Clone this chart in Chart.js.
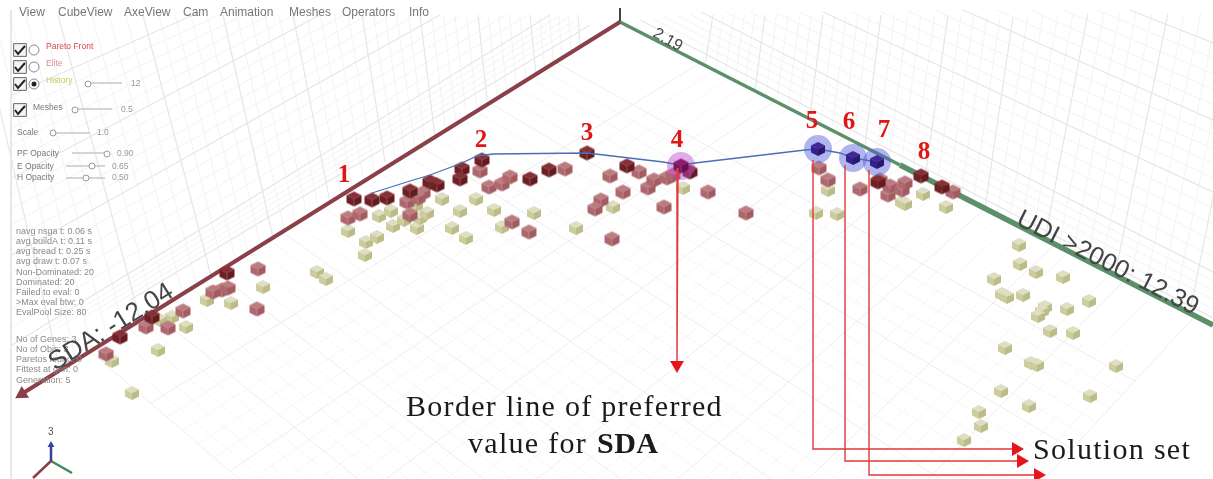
<!DOCTYPE html>
<html>
<head>
<meta charset="utf-8">
<title>Pareto front view</title>
<style>
    html, body { margin: 0; padding: 0; background: #fff; overflow: hidden; }
    canvas { display: block; filter: blur(0.5px); }
</style>
<script src="https://cdn.jsdelivr.net/npm/chart.js@4/dist/chart.umd.min.js"></script>
</head>
<body>
<canvas id="chart" width="1213" height="479"></canvas>
<script>
// values, in picture units (x right, y down)
const paretoCubes = [
    [354,199],[372,200],[387,198],[410,191],[430,182],[437,185],[462,169],[460,179],[482,160],
    [530,179],[549,170],[587,153],[627,166],[690,172],[921,176],[942,187],[878,182],
    [227,273],[152,317],[120,337]
];
const dominatedCubes = [
    [348,218],[360,214],[407,202],[423,193],[418,198],[410,215],[480,171],[489,187],[502,184],
    [510,177],[565,169],[610,176],[623,192],[601,200],[595,209],[512,222],[529,232],[612,239],
    [639,172],[648,188],[654,180],[667,178],[673,175],[664,207],[708,192],[746,213],
    [819,168],[828,180],[860,189],[880,180],[888,195],[890,186],[902,190],[905,183],[953,192],
    [258,269],[257,309],[222,290],[213,292],[228,288],[183,311],[168,328],[146,327],[106,354]
];
const historyCubes = [
    [348,231],[366,242],[377,237],[365,255],[379,216],[391,211],[393,226],[404,220],[417,228],
    [420,218],[427,213],[416,205],[442,199],[460,211],[476,199],[494,210],[452,228],[466,238],
    [502,227],[534,213],[576,228],[613,207],[683,188],[828,190],[816,213],[837,214],[902,202],
    [905,204],[923,194],[946,207],[263,287],[231,303],[207,300],[317,272],[326,279],[186,327],
    [158,350],[132,393],[112,361],[172,317],[160,320],
    [1019,245],[1020,264],[1036,272],[1063,277],[994,279],[1002,294],[1007,297],[1023,295],
    [1089,301],[1045,307],[1042,311],[1038,316],[1067,309],[1050,331],[1073,333],[1005,348],
    [1031,363],[1037,365],[1116,366],[1001,391],[1090,396],[1029,406],[979,412],[981,426],[964,440]
];
const solutionSet = [[818,149],[853,158],[877,162]];
const borderSolution = [[681,166]];
const frontLine = [
    [372,193],[410,181],[430,175],[462,163],[477,156],[493,154],[587,153],[663,162],[680,165],
    [695,163],[788,152],[805,150],[818,149],[840,153],[853,158],[877,162]
];

const solutionNumbers = ['1','2','3','4','5','6','7','8'];
const solutionNumberX = [344,481,587,677,812,849,884,924];
const solutionNumberY = [176,141,134,141,122,123,131,153];

const menuItems = ['View','CubeView','AxeView','Cam','Animation','Meshes','Operators','Info'];
const menuX = [19,58,124,183,220,289,342,409];

const statLines = [
    'navg nsga t: 0.06 s','avg buildA t: 0.11 s','avg bread t: 0.25 s','avg draw t: 0.07 s',
    'Non-Dominated: 20','Dominated: 20','Failed to eval: 0','>Max eval btw: 0','EvalPool Size: 80',
    'No of Genes: 3','No of Objs: 3','Paretos found: 0','Fittest at gen: 0','Generation: 5'
];
const statY = [232,242,252,262,273,283,293,303,313,340,350,360,370,381];

const panelLabels = [
    ['Pareto Front',46,47,'#d9454a'],['Elite',46,64,'#e08a8a'],['History',46,81,'#c9c95a'],['12',131,84,'#999'],
    ['Meshes',33,108,'#777'],['0.5',121,110,'#999'],['Scale',17,133,'#777'],['1.0',97,133,'#999'],
    ['PF Opacity',17,154,'#777'],['0.90',117,154,'#999'],['E Opacity',17,167,'#777'],['0.65',112,167,'#999'],
    ['H Opacity',17,178,'#777'],['0.50',112,178,'#999']
];
const checkBoxes = [[20,50],[20,67],[20,84],[20,110]];
const radioButtons = [[34,50],[34,67],[34,84]];
const radioDot = [[34,84]];
const sliderThumbs = [[88,84],[75,110],[53,133],[107,154],[92,166],[86,178]];
const sliderTracks = [
    [88,83],[122,83],null,[75,109],[112,109],null,[53,133],[90,133],null,
    [72,153],[107,153],null,[66,166],[105,166],null,[66,178],[105,178]
];
const checkMarks = [
    [15,50],[18,54],[25,46],null,[15,67],[18,71],[25,63],null,[15,84],[18,88],[25,80],null,[15,110],[18,114],[25,106]
];

// heavy grid lines as [x1, y1, x2, y2], in order across each surface
const floorAlongUdi = [
    [555,62,1135,381],[490,103,1072,449],[420,146,940,479],[350,190,771,479],[283,232,621,479],
    [217,273,484,479],[153,312,358,479],[90,351,239,479]
];
const floorAlongSda = [
    [700,63,151,403],[775,101,230,471],[845,137,386,479],[915,173,537,479],[985,209,678,479],
    [1055,244,808,479],[1125,280,928,479],[1195,316,1044,479]
];
const leftWallUp = [
    [-22,15,60,370],[58,15,140,320],[143,15,211,276],[223,15,273,238],[293,15,330,202],
    [362,15,385,162],[420,15,435,137],[478,15,487,100],[530,15,536,75],[578,15,580,47]
];
const leftWallAcross = [
    [12,95,200,12],[12,178,320,15],[12,255,440,15],[12,345,550,15],[130,300,590,25]
];
const rightWallUp = [
    [713,15,705,65],[765,15,755,90],[823,15,810,115],[881,15,865,145],[948,15,925,178],
    [1013,17,985,208],[1088,13,1045,239],[1168,13,1115,275],[1250,13,1190,312]
];
const rightWallAcross = [
    [1130,10,1213,43],[963,10,1213,120],[823,12,1213,192],[701,12,1213,272],[640,20,1213,318]
];
const leftEdge = [[11,10],[11,479]];

const sdaAxis = [[620,22],[20,395]];
const udiAxisNear = [[620,22],[900,165]];
const udiAxisFar = [[900,165],[1213,325]];
const zAxisStub = [[620,22],[620,8]];
const sdaTip = [[22,394]];

const arrowLines = [
    [678,168],[677,364],null,
    [813,160],[813,449],[1018,449],null,
    [845,165],[845,461],[1022,461],null,
    [869,170],[869,475],[1038,475]
];
const arrowDown = [[677,365]];
const arrowRight = [[1016,449],[1021,461],[1038,475]];

const gizmoBlue = [[51,461],[51,446]];
const gizmoRed = [[51,461],[33,478]];
const gizmoGreen = [[51,461],[72,473]];
const gizmoTip = [[51,445]];

// [text, x, y, angle in degrees, size]
const axisLabels = [
    ['SDA: -12.04',55,371,-32,26],
    ['UDI >2000: 12.39',1015,224,27,25.5],
    ['2.19',652,36,30,16]
];

function toPoints(list) {
    return list.map(p => p ? {x: p[0], y: p[1]} : {x: null, y: null});
}

function heavyGrid(groups) {
    const out = [];
    groups.forEach(g => g.forEach(l => out.push([l[0], l[1]], [l[2], l[3]], null)));
    return out;
}

// the fine grid sits in fifths between two heavy lines
function fineGrid(groups) {
    const out = [];
    groups.forEach(g => {
        for (let i = 0; i < g.length - 1; i++) {
            for (let k = 1; k < 5; k++) {
                const at = j => g[i][j] + (g[i + 1][j] - g[i][j]) * k / 5;
                out.push([at(0), at(1)], [at(2), at(3)], null);
            }
        }
    });
    return out;
}

// little isometric cube, used as point style
function cubeSprite(size, top, left, right) {
    const c = document.createElement('canvas');
    c.width = size + 2;
    c.height = size + 2;
    const g = c.getContext('2d');
    g.filter = 'blur(0.5px)';
    const m = size / 2 + 1, q = size / 4, o = 1;
    const face = (color, pts) => {
        g.fillStyle = color;
        g.beginPath();
        pts.forEach((p, i) => i ? g.lineTo(p[0], p[1]) : g.moveTo(p[0], p[1]));
        g.closePath();
        g.fill();
    };
    face(top, [[m,o],[size+o,q+o],[m,2*q+o],[o,q+o]]);
    face(left, [[o,q+o],[m,2*q+o],[m,size+o],[o,3*q+o]]);
    face(right, [[size+o,q+o],[m,2*q+o],[m,size+o],[size+o,3*q+o]]);
    return c;
}

const sprites = {
    pareto: cubeSprite(15, '#843036', '#6e2024', '#641a1e'),
    dominated: cubeSprite(15, '#bb7c80', '#ae686d', '#a35a60'),
    history: cubeSprite(14, '#dedec4', '#cccc9c', '#bcbc88'),
    solution: cubeSprite(14, '#42269a', '#33208a', '#2a1870'),
    border: cubeSprite(15, '#8c1c70', '#7a1560', '#691050')
};

function cubes(list, sprite, order) {
    return {type: 'scatter', data: toPoints(list), pointStyle: sprite, order: order, pointRadius: 7};
}

function line(list, color, width, order, extra) {
    return Object.assign({
        type: 'line', data: toPoints(list), borderColor: color, borderWidth: width,
        pointRadius: 0, tension: 0, spanGaps: false, order: order
    }, extra || {});
}

function marks(list, style, radius, color, order, extra) {
    return Object.assign({
        type: 'scatter', data: toPoints(list), pointStyle: style, pointRadius: radius,
        backgroundColor: color, borderColor: color, borderWidth: 0, order: order
    }, extra || {});
}

function put(ctx, text, x, y, font, color, extra) {
    ctx.save();
    ctx.translate(x, y);
    if (extra && extra.angle) ctx.rotate(extra.angle * Math.PI / 180);
    ctx.font = font;
    ctx.fillStyle = color;
    ctx.textAlign = 'left';
    ctx.textBaseline = extra && extra.baseline ? extra.baseline : 'middle';
    ctx.letterSpacing = extra && extra.spacing ? extra.spacing : '0px';
    ctx.fillText(text, 0, 0);
    ctx.restore();
}

const textLayer = {
    id: 'textLayer',
    afterDatasetsDraw(chart) {
        const ctx = chart.ctx;
        const sx = v => chart.scales.x.getPixelForValue(v);
        const sy = v => chart.scales.y.getPixelForValue(v);
        const sans = '"Liberation Sans", Arial, sans-serif';
        const serif = '"Liberation Serif", "Times New Roman", serif';

        menuItems.forEach((t, i) => put(ctx, t, sx(menuX[i]), sy(13), '12px ' + sans, '#777'));
        panelLabels.forEach(l => put(ctx, l[0], sx(l[1]), sy(l[2]), '8.5px ' + sans, l[3]));
        statLines.forEach((t, i) => put(ctx, t, sx(16), sy(statY[i]), '9px ' + sans, '#8a8a8a'));
        axisLabels.forEach(l => put(ctx, l[0], sx(l[1]), sy(l[2]), l[4] + 'px ' + sans, '#444', {angle: l[3], baseline: 'alphabetic'}));
        solutionNumbers.forEach((t, i) => {
            ctx.save();
            ctx.textAlign = 'center';
            ctx.textBaseline = 'middle';
            ctx.font = 'bold 25px ' + serif;
            ctx.fillStyle = '#e01515';
            ctx.fillText(t, sx(solutionNumberX[i]), sy(solutionNumberY[i]));
            ctx.restore();
        });
        put(ctx, 'Border line of preferred', sx(406), sy(408), '30px ' + serif, '#1a1a1a', {spacing: '1.3px'});
        put(ctx, 'value for ', sx(468), sy(445), '30px ' + serif, '#1a1a1a', {spacing: '1.3px'});
        put(ctx, 'SDA', sx(597), sy(445), 'bold 30px ' + serif, '#1a1a1a', {spacing: '0.5px'});
        put(ctx, 'Solution set', sx(1033), sy(451), '30px ' + serif, '#1a1a1a', {spacing: '1.3px'});
        put(ctx, '3', sx(48), sy(432), '10px ' + sans, '#555');
    }
};

const floorGroups = [floorAlongUdi, floorAlongSda];
const wallGroups = [leftWallUp, leftWallAcross, rightWallUp, rightWallAcross];

new Chart(document.getElementById('chart'), {
    data: {
        datasets: [
            line(fineGrid(floorGroups), '#f6f6f6', 1, 52),
            line(fineGrid(wallGroups), '#f3f3f3', 1, 52),
            line(heavyGrid(floorGroups), '#ededed', 1, 50),
            line(heavyGrid(wallGroups), '#e6e6e6', 1.2, 50),
            line(leftEdge, '#e4e4e4', 1, 50),

            line(sdaAxis, '#8b3f49', 4, 30),
            line(udiAxisNear, '#5c9068', 3.5, 30),
            line(udiAxisFar, '#5c9068', 5.5, 30),
            line(zAxisStub, '#3c4a3c', 2, 30),
            marks(sdaTip, 'triangle', 8, '#8b3f49', 30, {rotation: 238}),

            cubes(historyCubes, sprites.history, 25),
            cubes(dominatedCubes, sprites.dominated, 22),
            cubes(paretoCubes, sprites.pareto, 20),

            marks(borderSolution, 'circle', 14, 'rgba(190,70,210,0.45)', 18),
            marks(solutionSet, 'circle', 14, 'rgba(80,90,220,0.45)', 18),
            line(frontLine, '#4a6fb5', 1.3, 16),
            cubes(solutionSet, sprites.solution, 15),
            cubes(borderSolution, sprites.border, 15),

            line(arrowLines, '#e0383c', 1.4, 10),
            marks(arrowDown, 'triangle', 8, '#e8141c', 9, {rotation: 180}),
            marks(arrowRight, 'triangle', 8, '#e8141c', 9, {rotation: 90}),

            line(sliderTracks, '#c8c8c8', 1.5, 8),
            marks(sliderThumbs, 'circle', 3, '#ffffff', 7, {borderColor: '#999', borderWidth: 1}),
            marks(checkBoxes, 'rect', 9, '#f4f4f4', 7, {borderColor: '#666', borderWidth: 1}),
            marks(radioButtons, 'circle', 5, '#ffffff', 7, {borderColor: '#888', borderWidth: 1}),
            marks(radioDot, 'circle', 2.5, '#222', 6),
            line(checkMarks, '#222', 2, 5),

            line(gizmoBlue, '#3a3f9a', 2.5, 4),
            line(gizmoRed, '#8b3f49', 2.5, 4),
            line(gizmoGreen, '#3f8a5a', 2.5, 4),
            marks(gizmoTip, 'triangle', 4, '#3a3f9a', 3)
        ]
    },
    options: {
        responsive: false,
        animation: false,
        layout: {padding: 0, autoPadding: false},
        plugins: {legend: {display: false}, tooltip: {enabled: false}, title: {display: false}},
        scales: {
            x: {type: 'linear', min: 0, max: 1213, display: false},
            y: {type: 'linear', min: 0, max: 479, reverse: true, display: false}
        }
    },
    plugins: [textLayer]
});
</script>
</body>
</html>
